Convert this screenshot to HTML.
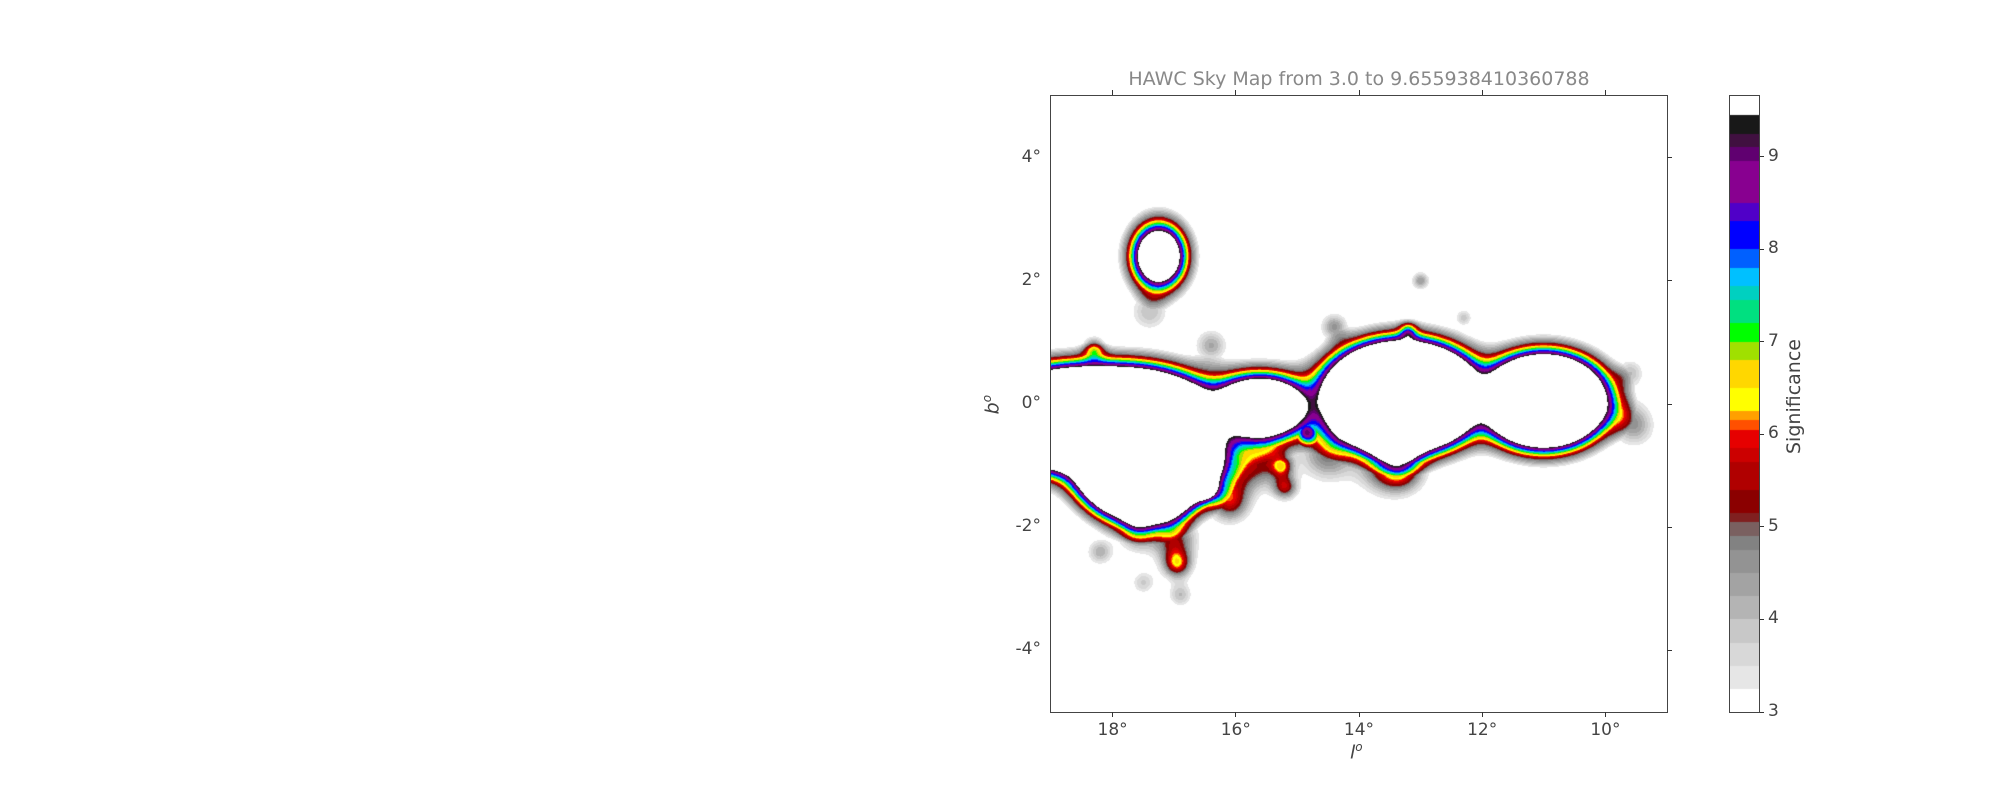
<!DOCTYPE html>
<html><head><meta charset="utf-8">
<style>
html,body{margin:0;padding:0;background:#fff;}
#root{position:relative;width:2000px;height:800px;background:#fff;font-family:"DejaVu Sans","Liberation Sans",sans-serif;color:#444;overflow:hidden;}
.abs{position:absolute;}
.tick{position:absolute;background:#333;}
.tl{position:absolute;font-size:17px;color:#444;white-space:nowrap;}
</style></head>
<body>
<div id="root">
  <div class="abs" style="left:1051px;width:616px;top:68px;text-align:center;font-size:19px;color:#888;">HAWC Sky Map from 3.0 to 9.655938410360788</div>
  <canvas id="map" class="abs" width="616" height="616" style="left:1051px;top:96px;"></canvas>
  <div class="abs" style="left:1050px;top:95px;width:616px;height:616px;border:1px solid #444;"></div>
  <div id="axes"></div>
  <div class="abs" style="left:1350px;top:740px;font-size:19px;font-style:italic;">l<sup style="font-size:12px">o</sup></div>
  <div class="abs" style="left:982px;top:393px;font-size:19px;font-style:italic;transform:rotate(-90deg);">b<sup style="font-size:12px">o</sup></div>
  <canvas id="cbar" class="abs" width="29" height="616" style="left:1730px;top:96px;"></canvas>
  <div class="abs" style="left:1729px;top:95px;width:29px;height:616px;border:1px solid #444;"></div>
  <div class="abs" style="left:1744px;top:393px;width:100px;text-align:center;font-size:19px;transform:rotate(-90deg);">Significance</div>
</div>
<script>
// axis ranges
const lMin = 9, lMax = 19, bMin = -5, bMax = 5, vMin = 3.0, vMax = 9.655938410360788;
const xTicks = [18, 16, 14, 12, 10];
const yTicks = [4, 2, 0, -2, -4];
const cTicks = [3, 4, 5, 6, 7, 8, 9];
// saturated sources (ellipses: centre, radii in degrees)
const srcL = [18.3, 17.5, 15.6, 13.3, 11.0, 17.25];
const srcB = [-0.25, -0.75, -0.05, 0.12, 0.05, 2.4];
const srcRL = [2.0, 1.2, 0.7, 1.3, 1.0, 0.33];
const srcRB = [0.85, 1.15, 0.45, 0.9, 0.75, 0.4];
// neck ridge (max-combined)
const neckL = [14.8, 14.8, 14.85];
const neckB = [0.2, -0.15, -0.45];
const neckS = [0.2, 0.2, 0.2];
const neckP = [8.6, 8.8, 8.4];
// faint blobs (added on top of the field)
const blobL = [16.95, 15.2, 15.25, 17.4, 13.0, 16.9, 17.5, 9.6, 9.5, 13.3, 16.45, 18.3, 14.4, 16.4, 12.3, 13.2, 15.5, 14.5, 16.0, 16.1, 17.0, 17.6, 13.6, 18.2, 9.65];
const blobB = [-2.6, -1.35, -1.0, 1.5, 2.0, -3.1, -2.9, 0.5, -0.4, -1.05, -1.4, 0.9, 1.25, 0.95, 1.4, 1.2, -0.95, -0.8, -1.1, -1.6, -2.2, -2.1, -1.0, -2.4, -0.2];
const blobS = [0.16, 0.14, 0.12, 0.22, 0.1, 0.14, 0.14, 0.16, 0.22, 0.25, 0.14, 0.12, 0.15, 0.18, 0.1, 0.1, 0.25, 0.3, 0.28, 0.22, 0.25, 0.2, 0.3, 0.15, 0.25];
const blobP = [5.7, 5.4, 5.2, 4.0, 4.5, 4.0, 3.8, 4.0, 3.7, 5.6, 5.3, 5.4, 4.6, 4.3, 3.9, 5.3, 4.6, 5.0, 5.2, 5.4, 5.3, 4.8, 5.0, 4.2, 3.8];
// colormap stops
const cmapV = [3.0,3.25,3.5,3.75,4.0,4.25,4.5,4.75,4.9,5.05,5.15,5.4,5.7,5.85,6.05,6.15,6.25,6.5,6.8,7.0,7.2,7.45,7.6,7.8,8.0,8.3,8.5,8.95,9.1,9.25,9.45];
const cmapC = ["#ffffff","#e6e6e6","#d8d8d8","#c8c8c8","#b4b4b4","#a3a3a3","#939393","#828282","#7a6060","#802020","#8b0000","#b00000","#cc0000","#e60000","#ff5000","#ffa000","#ffff00","#ffd700","#a0e000","#00ff00","#00e080","#00d0c0","#00c0ff","#0060ff","#0000ff","#5000c8","#880090","#600070","#401040","#181818","#ffffff"];

const X0 = 1051, Y0 = 96, W = 616, H = 616;
function xScale(l){ return (lMax - l) / (lMax - lMin) * W; }
function yScale(b){ return (bMax - b) / (bMax - bMin) * H; }
function cScale(v){ return (vMax - v) / (vMax - vMin) * H; }
function hex(c){ return [parseInt(c.slice(1,3),16),parseInt(c.slice(3,5),16),parseInt(c.slice(5,7),16)]; }
const cmapRGB = cmapC.map(hex);
function colorOf(v){
  if (v < vMin) return [255,255,255];
  if (v >= vMax) return [255,255,255];
  let i = 0;
  while (i < cmapV.length - 1 && v >= cmapV[i+1]) i++;
  return cmapRGB[i];
}
function field(l, b){
  let P = 0; const lam = 0.12;
  for (let i = 0; i < srcL.length; i++){
    const dl = (l - srcL[i]) / srcRL[i], db = (b - srcB[i]) / srcRB[i];
    const r = Math.sqrt(dl*dl + db*db);
    const d = (r - 1) * Math.min(srcRL[i], srcRB[i]);
    P += Math.exp(-d / lam);
  }
  const D = -lam * Math.log(P);
  let v;
  if (D < 0) return 10;
  else if (D < 0.2) v = vMax - (vMax - 5) * D / 0.2;
  else v = Math.max(2.5, 5 - 2 * (D - 0.2) / 0.15);
  for (let k = 0; k < neckL.length; k++){
    const dl = l - neckL[k], db = b - neckB[k];
    const nv = neckP[k] * Math.exp(-0.5 * (dl*dl + db*db) / (neckS[k]*neckS[k]));
    if (nv > v) v = nv;
  }
  let add = 0;
  for (let j = 0; j < blobL.length; j++){
    const dl = l - blobL[j], db = b - blobB[j];
    add += (blobP[j] - 2.5) * Math.exp(-0.5 * (dl*dl + db*db) / (blobS[j]*blobS[j]));
  }
  return Math.min(v + add, 9.6);
}
// map
const ctx = document.getElementById('map').getContext('2d');
const img = ctx.createImageData(W, H);
for (let py = 0; py < H; py++){
  const b = bMax - (py + 0.5) / H * (bMax - bMin);
  for (let px = 0; px < W; px++){
    const l = lMax - (px + 0.5) / W * (lMax - lMin);
    const c = colorOf(field(l, b));
    const k = (py * W + px) * 4;
    img.data[k] = c[0]; img.data[k+1] = c[1]; img.data[k+2] = c[2]; img.data[k+3] = 255;
  }
}
ctx.putImageData(img, 0, 0);
// colorbar
const cb = document.getElementById('cbar').getContext('2d');
for (let py = 0; py < H; py++){
  const v = vMax - (py + 0.5) / H * (vMax - vMin);
  const c = colorOf(v);
  cb.fillStyle = (v >= 9.45) ? '#ffffff' : 'rgb(' + c.join(',') + ')';
  cb.fillRect(0, py, 29, 1);
}
// axes
const axes = document.getElementById('axes');
function add(cls, css, text){ const d = document.createElement('div'); d.className = cls; d.style.cssText = css; if (text !== undefined) d.textContent = text; axes.appendChild(d); return d; }
xTicks.forEach(function(t){
  const x = X0 + xScale(t);
  let e = add('tick', 'left:' + (x-0.5) + 'px;top:' + (Y0+H) + 'px;width:1px;height:5px;');
  
  
  e = add('tick', 'left:' + (x-0.5) + 'px;top:' + (Y0-6) + 'px;width:1px;height:5px;');
  
  
  e = add('tl', 'left:' + (x-30) + 'px;width:60px;text-align:center;top:' + (Y0+H+8) + 'px;', t + '°');
  
  
});
yTicks.forEach(function(t){
  const y = Y0 + yScale(t);
  let e = add('tick', 'left:' + (X0+W) + 'px;top:' + (y-0.5) + 'px;width:5px;height:1px;');
  
  
  e = add('tl', 'left:' + (X0-70) + 'px;width:60px;text-align:right;top:' + (y-11) + 'px;', (t < 0 ? '-' + (-t) : t) + '°');
  
  
});
cTicks.forEach(function(t){
  const y = Y0 + cScale(t);
  let e = add('tick', 'left:1759px;top:' + (y-0.5) + 'px;width:5px;height:1px;');
  
  
  e = add('tl', 'left:1768px;top:' + (y-11) + 'px;', String(t));
  
  
});
</script>
</body></html>
